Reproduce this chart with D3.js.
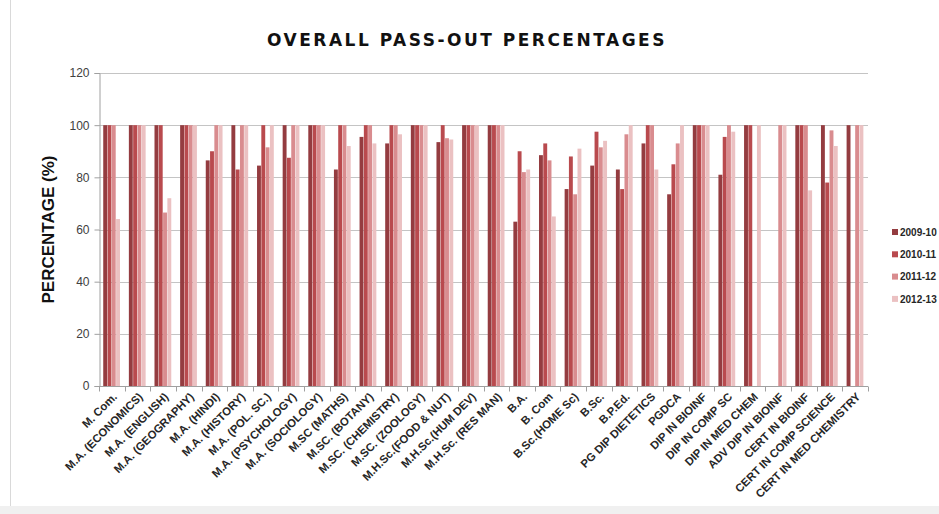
<!DOCTYPE html>
<html>
<head>
<meta charset="utf-8">
<script src="https://cdn.jsdelivr.net/npm/d3@7"></script>
<style>
  body { margin: 0; background: #fff; }
  svg { display: block; font-family: "Liberation Sans", Arial, sans-serif; }
</style>
</head>
<body>
<div id="chart"></div>
<script>
// data
var courses = ["M. Com.", "M.A. (ECONOMICS)", "M.A. (ENGLISH)", "M.A. (GEOGRAPHY)", "M.A. (HINDI)",
  "M.A. (HISTORY)", "M.A. (POL. SC.)", "M.A. (PSYCHOLOGY)", "M.A. (SOCIOLOGY)", "M.SC (MATHS)",
  "M.SC. (BOTANY)", "M.SC. (CHEMISTRY)", "M.SC. (ZOOLOGY)", "M.H.Sc.(FOOD & NUT)", "M.H.Sc.(HUM DEV)",
  "M.H.Sc. (RES MAN)", "B.A.", "B. Com", "B.Sc.(HOME Sc)", "B.Sc.", "B.P.Ed.", "PG DIP DIETETICS",
  "PGDCA", "DIP IN BIOINF", "DIP IN COMP SC", "DIP IN MED CHEM", "ADV DIP IN BIOINF",
  "CERT IN BIOINF", "CERT IN COMP SCIENCE", "CERT IN MED CHEMISTRY"];
var years = ["2009-10", "2010-11", "2011-12", "2012-13"];
var y2009 = [100, 100, 100, 100, 86.5, 100, 84.5, 100, 100, 83, 95.5, 93, 100, 93.5, 100, 100, 63, 88.5, 75.5, 84.5, 83, 93, 73.5, 100, 81, 100, 0, 100, 100, 100];
var y2010 = [100, 100, 100, 100, 90, 83, 100, 87.5, 100, 100, 100, 100, 100, 100, 100, 100, 90, 93, 88, 97.5, 75.5, 100, 85, 100, 95.5, 100, 0, 100, 78, 0];
var y2011 = [100, 100, 66.5, 100, 100, 100, 91.5, 100, 100, 100, 100, 100, 100, 95, 100, 100, 82, 86.5, 73.5, 91.5, 96.5, 100, 93, 100, 100, 0, 100, 100, 98, 100];
var y2012 = [64, 100, 72, 100, 100, 100, 100, 100, 100, 92, 93, 96.5, 100, 94.5, 100, 100, 83, 65, 91, 94, 100, 83, 100, 100, 97.5, 100, 100, 75, 92, 100];
var yTicks = [0, 20, 40, 60, 80, 100, 120];
var colors = ["#943c40", "#b94a4e", "#d98c8f", "#ebc1c2"];

var series = [y2009, y2010, y2011, y2012];
var W = 939, H = 514;
var margin = { top: 73, right: 71, bottom: 128, left: 99 };

var svg = d3.select("#chart").append("svg")
  .attr("width", W)
  .attr("height", H);

// chart frame
svg.append("rect").attr("x", 0).attr("y", 506).attr("width", W).attr("height", 8).attr("fill", "#f0f0f0");
svg.append("line").attr("x1", 10.5).attr("x2", 10.5).attr("y1", 0).attr("y2", 506)
  .attr("stroke", "#d9d9d9");

var x = d3.scaleBand()
  .domain(courses)
  .range([margin.left, W - margin.right])
  .paddingInner(0.33)
  .paddingOuter(0.165);
var xs = d3.scaleBand().domain(years).range([0, x.bandwidth()]);
var y = d3.scaleLinear().domain([0, 120]).range([H - margin.bottom, margin.top]);
var color = d3.scaleOrdinal().domain(years).range(colors);

// gridlines
svg.append("g")
  .selectAll("line")
  .data(yTicks.slice(1))
  .enter()
  .append("line")
  .attr("x1", margin.left)
  .attr("x2", W - margin.right)
  .attr("y1", function (d) { return Math.round(y(d)) + 0.5; })
  .attr("y2", function (d) { return Math.round(y(d)) + 0.5; })
  .attr("stroke", "#c4c4c4");

// y axis
var yAxis = svg.append("g")
  .attr("transform", "translate(" + (margin.left + 0.5) + ",0)")
  .call(d3.axisLeft(y).tickValues(yTicks).tickSize(5).tickPadding(5));
yAxis.select(".domain").attr("stroke", "#a0a0a0");
yAxis.selectAll(".tick line").attr("stroke", "#a0a0a0");
yAxis.selectAll("text").attr("font-size", 12).attr("fill", "#404040");

// bars
var rows = courses.map(function (c, i) {
  return { course: c, vals: years.map(function (yr, k) { return { year: yr, v: series[k][i] }; }) };
});
svg.append("g")
  .selectAll("g")
  .data(rows)
  .enter()
  .append("g")
  .attr("transform", function (d) { return "translate(" + x(d.course) + ",0)"; })
  .selectAll("rect")
  .data(function (d) { return d.vals.filter(function (e) { return e.v > 0; }); })
  .enter()
  .append("rect")
  .attr("x", function (d) { return xs(d.year); })
  .attr("width", xs.bandwidth() - 0.4)
  .attr("y", function (d) { return y(d.v); })
  .attr("height", function (d) { return y(0) - y(d.v); })
  .attr("fill", function (d) { return color(d.year); });

// x axis with ticks between categories
var xAxisG = svg.append("g").attr("transform", "translate(0," + (y(0) + 0.5) + ")");
xAxisG.append("line")
  .attr("x1", margin.left).attr("x2", W - margin.right)
  .attr("stroke", "#a0a0a0");
xAxisG.selectAll(".xt")
  .data(d3.range(courses.length + 1))
  .enter()
  .append("line")
  .attr("class", "xt")
  .attr("x1", function (i) { return Math.round(margin.left + i * x.step()) + 0.5; })
  .attr("x2", function (i) { return Math.round(margin.left + i * x.step()) + 0.5; })
  .attr("y1", 0).attr("y2", 5)
  .attr("stroke", "#a0a0a0");
xAxisG.selectAll("text")
  .data(courses)
  .enter()
  .append("text")
  .attr("transform", function (d) {
    return "translate(" + (x(d) + x.bandwidth() / 2 + 6) + ",11) rotate(-45)";
  })
  .attr("text-anchor", "end")
  .attr("font-size", 11.3)
  .attr("font-weight", "bold")
  .attr("fill", "#262626")
  .text(function (d) { return d; });

// title
svg.append("text")
  .attr("x", 467)
  .attr("y", 46)
  .attr("text-anchor", "middle")
  .attr("font-family", "'DejaVu Sans', sans-serif")
  .attr("font-size", 17)
  .attr("font-weight", "bold")
  .attr("letter-spacing", 2.5)
  .attr("fill", "#111")
  .text("OVERALL PASS-OUT PERCENTAGES");

// y axis title
svg.append("text")
  .attr("transform", "translate(54," + (y(60)) + ") rotate(-90)")
  .attr("text-anchor", "middle")
  .attr("font-size", 17)
  .attr("font-weight", "bold")
  .attr("fill", "#111")
  .text("PERCENTAGE (%)");

// legend
var legend = svg.append("g")
  .selectAll("g")
  .data(years)
  .enter()
  .append("g")
  .attr("transform", function (d, i) { return "translate(892," + (232 + i * 22.3) + ")"; });
legend.append("rect")
  .attr("x", 0).attr("y", -3).attr("width", 6).attr("height", 6)
  .attr("fill", color);
legend.append("text")
  .attr("x", 8)
  .attr("dy", "0.36em")
  .attr("font-size", 10)
  .attr("font-weight", "bold")
  .attr("fill", "#262626")
  .text(function (d) { return d; });
</script>
</body>
</html>
